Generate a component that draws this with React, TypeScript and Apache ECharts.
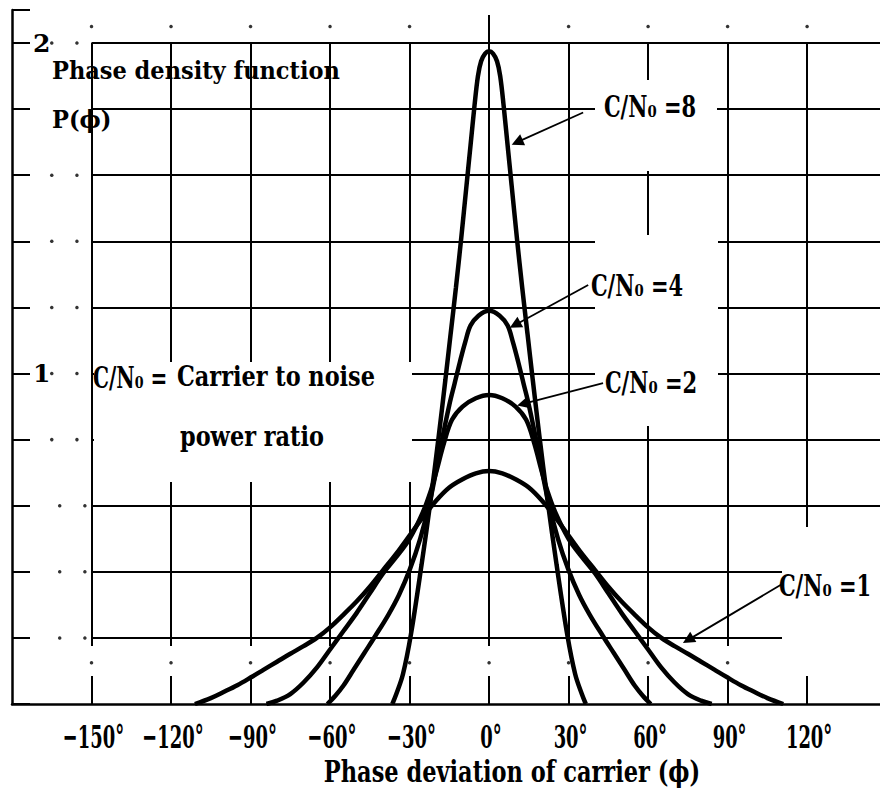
import React, { useEffect, useRef } from "react";
import * as echarts from "echarts";

// ---- axes ----
const X_MIN = -180;
const X_MAX = 147.5;
const Y_MIN = 0;
const Y_MAX = 2.1;
const Y_INTERVAL = 0.2;
const X_TICKS = [-150, -120, -90, -60, -30, 0, 30, 60, 90, 120];
const X_TICK_LABELS = ["−150°", "−120°", "−90°", "−60°", "−30°", "0°", "30°", "60°", "90°", "120°"];
const Y_GRID = [0.2, 0.4, 0.6, 0.8, 1.0, 1.2, 1.4, 1.6, 1.8, 2.0];
const Y_LABELLED = [1, 2];

// ---- curves: phase deviation (deg) / density ----
const PHI_8 = [-36.5, -35, -32.5, -29.5, -25.5, -22, -19, -16.5, -14.5, -12.5, -10.5, -8.5, -7, -5.5, -4.2, -3, -1.5, 0, 1.5, 3, 4.2, 5.5, 7, 8.5, 10.5, 12.5, 14.5, 16.5, 19, 22, 25.5, 29.5, 32.5, 35, 36.5];
const P_8 = [0, 0.03, 0.09, 0.21, 0.42, 0.62, 0.81, 0.98, 1.12, 1.26, 1.41, 1.57, 1.69, 1.81, 1.9, 1.945, 1.968, 1.975, 1.968, 1.945, 1.9, 1.81, 1.69, 1.57, 1.41, 1.26, 1.12, 0.98, 0.81, 0.62, 0.42, 0.21, 0.09, 0.03, 0];

const PHI_4 = [-61, -58, -55, -51, -47, -43, -38, -34, -30, -26, -22, -18, -15, -13, -11, -9, -7, -4, 0, 4, 7, 9, 11, 13, 15, 18, 22, 26, 30, 34, 38, 43, 47, 51, 55, 58, 61];
const P_4 = [0, 0.025, 0.055, 0.105, 0.155, 0.205, 0.27, 0.33, 0.405, 0.5, 0.625, 0.79, 0.905, 0.97, 1.035, 1.095, 1.145, 1.175, 1.19, 1.175, 1.145, 1.095, 1.035, 0.97, 0.905, 0.79, 0.625, 0.5, 0.405, 0.33, 0.27, 0.205, 0.155, 0.105, 0.055, 0.025, 0];

const PHI_2 = [-84, -80, -75, -70, -65, -60, -55, -50, -45, -40, -35, -30, -25, -22, -20, -17, -14, -10, -5, 0, 5, 10, 14, 17, 20, 22, 25, 30, 35, 40, 45, 50, 55, 60, 65, 70, 75, 80, 84];
const P_2 = [0, 0.01, 0.03, 0.065, 0.11, 0.165, 0.22, 0.275, 0.335, 0.395, 0.445, 0.5, 0.58, 0.645, 0.7, 0.79, 0.86, 0.9, 0.925, 0.935, 0.925, 0.9, 0.86, 0.79, 0.7, 0.645, 0.58, 0.5, 0.445, 0.395, 0.335, 0.275, 0.22, 0.165, 0.11, 0.065, 0.03, 0.01, 0];

const PHI_1 = [-111, -105, -100, -95, -90, -85, -80, -75, -70, -65, -60, -55, -50, -45, -40, -35, -30, -25, -20, -15, -10, -5, 0, 5, 10, 15, 20, 25, 30, 35, 40, 45, 50, 55, 60, 65, 70, 75, 80, 85, 90, 95, 100, 105, 111];
const P_1 = [0, 0.018, 0.037, 0.057, 0.08, 0.104, 0.128, 0.152, 0.175, 0.2, 0.232, 0.27, 0.31, 0.355, 0.405, 0.455, 0.51, 0.565, 0.615, 0.655, 0.68, 0.698, 0.705, 0.698, 0.68, 0.655, 0.615, 0.565, 0.51, 0.455, 0.405, 0.355, 0.31, 0.27, 0.232, 0.2, 0.175, 0.152, 0.128, 0.104, 0.08, 0.057, 0.037, 0.018, 0];

// ---- annotation arrows: [fromPhi, fromP, toPhi, toP] ----
const ARROW_8 = [35.5, 1.79, 10.6, 1.70];
const ARROW_4 = [37.4, 1.268, 9.8, 1.147];
const ARROW_2 = [43.0, 0.971, 12.8, 0.908];
const ARROW_1 = [110.6, 0.363, 75.1, 0.194];

// ---- graph-paper dots ----
const DOTS_TOP_X = [-150, -120, -90, -60, -30, 30, 60, 90, 120];
const DOTS_TOP_Y = 2.05;
const DOTS_BAND_X = [-150, -120, -90, -60, -30, 0, 30, 60, 90];
const DOTS_BAND_Y = 0.125;
const DOTS_LEFT_X_UPPER = [-165, -155.5];
const DOTS_LEFT_Y_UPPER = [0.8, 1.0, 1.2, 1.4, 1.6, 2.0];
const DOTS_LEFT_X_LOWER = [-162, -152.5];
const DOTS_LEFT_Y_LOWER = [0.2, 0.4, 0.6];

const FONT = '"DejaVu Serif", serif';

function pairs(xs: number[], ys: number[]) {
  return xs.map((x, i) => [x, ys[i]]);
}

function arrowMark(a: number[]) {
  return {
    silent: true,
    symbol: ["none", "triangle"],
    symbolSize: 12,
    label: { show: false },
    lineStyle: { color: "#000", width: 1.8, type: "solid" },
    itemStyle: { color: "#000" },
    emphasis: { disabled: true },
    data: [[{ coord: [a[0], a[1]] }, { coord: [a[2], a[3]] }]],
  };
}

function curve(name: string, xs: number[], ys: number[], arrow: number[]) {
  return {
    name,
    type: "line",
    data: pairs(xs, ys),
    showSymbol: false,
    symbol: "none",
    smooth: 0.35,
    z: 5,
    lineStyle: { color: "#000", width: 4.5 },
    markLine: arrowMark(arrow),
  };
}

function text(t: string, x: number, y: number, size: number, sx: number, align: string = "left") {
  return {
    type: "text",
    x,
    y,
    scaleX: sx,
    z: 20,
    style: {
      text: t,
      fill: "#000",
      fontFamily: FONT,
      fontWeight: "bold",
      fontSize: size,
      align,
      textAlign: align,
      verticalAlign: "middle",
      textVerticalAlign: "middle",
    },
  };
}

function rect(x: number, y: number, w: number, h: number) {
  return {
    type: "rect",
    z: 2,
    silent: true,
    shape: { x, y, width: w, height: h },
    style: { fill: "#fff" },
  };
}

export default function App() {
  const ref = useRef<HTMLDivElement>(null);

  useEffect(() => {
    if (!ref.current) return;
    const chart = echarts.init(ref.current, undefined, { renderer: "svg" });

    const gridLines = [
      ...X_TICKS.map((t) => ({ coords: [[t, 0], [t, t === 0 ? 2.085 : 2.0]] })),
      ...Y_GRID.map((v) => ({ coords: [[-150, v], [X_MAX, v]] })),
    ];

    const dots: number[][] = [
      ...DOTS_TOP_X.map((x) => [x, DOTS_TOP_Y]),
      ...DOTS_BAND_X.map((x) => [x, DOTS_BAND_Y]),
      ...DOTS_LEFT_Y_UPPER.flatMap((y) => DOTS_LEFT_X_UPPER.map((x) => [x, y])),
      ...DOTS_LEFT_Y_LOWER.flatMap((y) => DOTS_LEFT_X_LOWER.map((x) => [x, y])),
    ];

    chart.setOption({
      animation: false,
      grid: { left: 12, right: 0, top: 10, bottom: 87, containLabel: false },
      xAxis: {
        type: "value",
        min: X_MIN,
        max: X_MAX,
        axisLine: { show: true, onZero: false, lineStyle: { color: "#000", width: 2.5 } },
        axisTick: { show: false },
        axisLabel: { show: false },
        splitLine: { show: false },
      },
      yAxis: {
        type: "value",
        min: Y_MIN,
        max: Y_MAX,
        interval: Y_INTERVAL,
        axisLine: { show: true, onZero: false, lineStyle: { color: "#000", width: 2.5 } },
        axisTick: { show: true, inside: true, length: 18, lineStyle: { color: "#000", width: 2 } },
        axisLabel: {
          show: true,
          inside: true,
          margin: 21,
          color: "#000",
          fontFamily: FONT,
          fontWeight: "bold",
          fontSize: 25,
          formatter: (v: number) => (Y_LABELLED.some((k) => Math.abs(k - v) < 1e-6) ? String(Math.round(v)) : ""),
        },
        splitLine: { show: false },
      },
      series: [
        {
          type: "lines",
          coordinateSystem: "cartesian2d",
          silent: true,
          z: 1,
          lineStyle: { color: "#000", width: 2, opacity: 1 },
          data: gridLines,
        },
        {
          type: "scatter",
          silent: true,
          z: 3,
          symbol: "circle",
          symbolSize: 3.5,
          itemStyle: { color: "#000" },
          data: dots,
        },
        curve("C/N0=1", PHI_1, P_1, ARROW_1),
        curve("C/N0=2", PHI_2, P_2, ARROW_2),
        curve("C/N0=4", PHI_4, P_4, ARROW_4),
        curve("C/N0=8", PHI_8, P_8, ARROW_8),
      ],
    });

    const y0 = chart.convertToPixel({ yAxisIndex: 0 }, 0) as number;
    const tickTexts = X_TICKS.map((t, i) => {
      const px = chart.convertToPixel({ xAxisIndex: 0 }, t) as number;
      return text(X_TICK_LABELS[i], px + 2, y0 + 33, 32, 0.56, "center");
    });

    chart.setOption({
      graphic: {
        elements: [
          rect(94, 362, 318, 120),
          rect(595, 80, 122, 91),
          rect(595, 235, 123, 191),
          rect(782, 527, 98, 136),
          rect(80, 646, 800, 30),
          text("Phase density function", 52, 71, 25, 0.9),
          text("P(ϕ)", 52, 120, 25, 0.9),
          text("C/N₀ =8", 650, 107, 30, 0.7, "center"),
          text("C/N₀ =4", 637, 286, 30, 0.7, "center"),
          text("C/N₀ =2", 651, 383, 30, 0.7, "center"),
          text("C/N₀ =1", 825, 586, 30, 0.7, "center"),
          text("C/N₀ =", 93, 377, 30, 0.67),
          text("Carrier to noise", 177, 377, 27, 0.83),
          text("power ratio", 180, 437, 27, 0.83),
          ...tickTexts,
          text("Phase deviation of carrier (ϕ)", 512, 771, 30, 0.75, "center"),
        ],
      },
    });

    return () => chart.dispose();
  }, []);

  return (
    <div
      ref={ref}
      style={{ position: "fixed", left: 0, top: 0, width: 880, height: 791, background: "#fff" }}
    />
  );
}
